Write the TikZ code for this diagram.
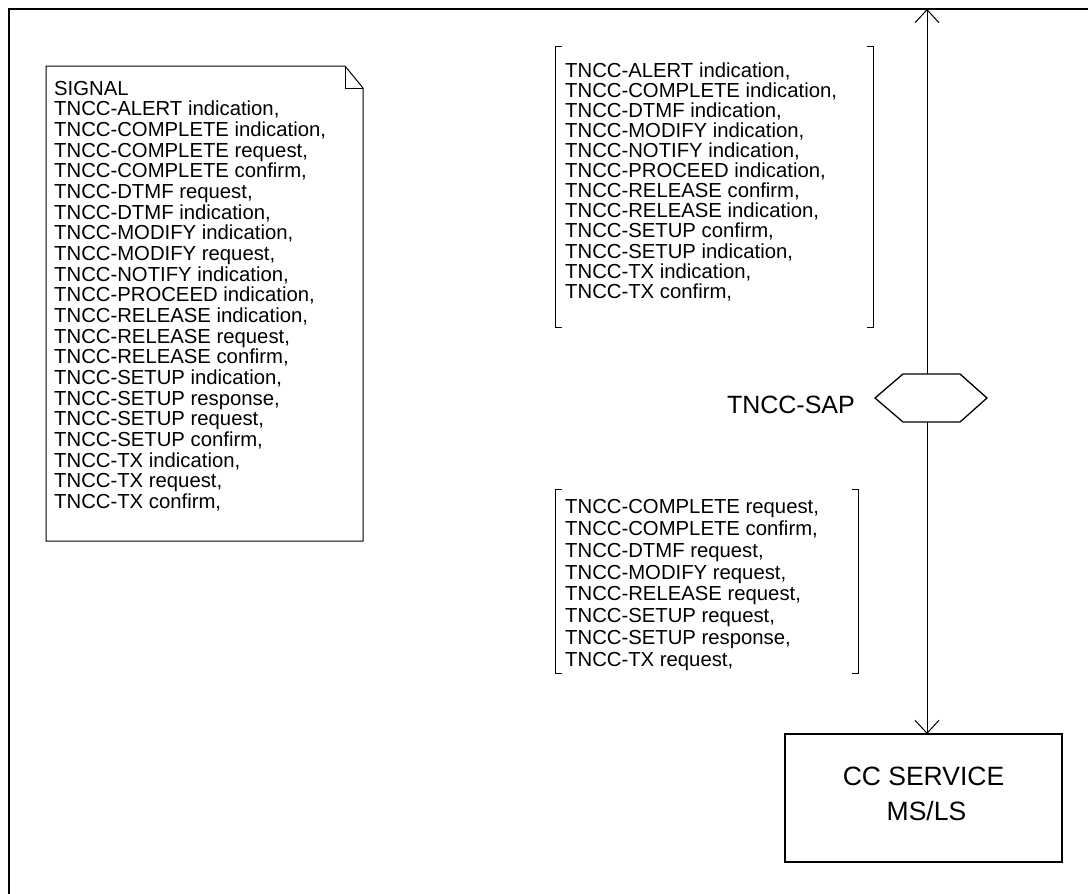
\documentclass[tikz,border=0pt]{standalone}
\usepackage{fontspec}
\setmainfont{Liberation Sans}
\usetikzlibrary{arrows.meta}
\tikzset{
  frameline/.style={line width=2.5pt},
  thin/.style={line width=1pt},
  listtext/.style={anchor=base west, inner sep=0pt, font=\fontsize{20.3}{21}\selectfont},
  sigarrow/.style={line width=1pt, -{Straight Barb[length=13pt,width=24pt,line width=1pt]}},
  ccbox/.style={draw, line width=1.2pt, minimum width=277pt, minimum height=128pt, inner sep=0pt},
  bigtext/.style={anchor=base, inner sep=0pt, font=\fontsize{26.5}{30}\selectfont},
}
\begin{document}
\begin{tikzpicture}[x=1pt,y=-1pt]
\useasboundingbox (0,0) rectangle (1088,894);
% frame
\draw[frameline] (9,894) -- (9,9) -- (1088,9);
\coordinate (ftop) at (927,9);
% signal box
\draw[thin] (46,66) -- (345,66) -- (363,88) -- (363,541) -- (46,541) -- cycle;
\draw[thin] (345,66) -- (345,88) -- (363,88);
\foreach \t [count=\i] in {SIGNAL,{TNCC-ALERT indication,},{TNCC-COMPLETE indication,},{TNCC-COMPLETE request,},{TNCC-COMPLETE confirm,},{TNCC-DTMF request,},{TNCC-DTMF indication,},{TNCC-MODIFY indication,},{TNCC-MODIFY request,},{TNCC-NOTIFY indication,},{TNCC-PROCEED indication,},{TNCC-RELEASE indication,},{TNCC-RELEASE request,},{TNCC-RELEASE confirm,},{TNCC-SETUP indication,},{TNCC-SETUP response,},{TNCC-SETUP request,},{TNCC-SETUP confirm,},{TNCC-TX indication,},{TNCC-TX request,},{TNCC-TX confirm,}}
  \node[listtext] (s\i) at (54,{95+(\i-1)*20.67}) {\t};
% list 1
\draw[thin] (562,46) -- (555,46) -- (555,327) -- (562,327);
\draw[thin] (867,46) -- (873,46) -- (873,327) -- (867,327);
\foreach \t [count=\i] in {{TNCC-ALERT indication,},{TNCC-COMPLETE indication,},{TNCC-DTMF indication,},{TNCC-MODIFY indication,},{TNCC-NOTIFY indication,},{TNCC-PROCEED indication,},{TNCC-RELEASE confirm,},{TNCC-RELEASE indication,},{TNCC-SETUP confirm,},{TNCC-SETUP indication,},{TNCC-TX indication,},{TNCC-TX confirm,}}
  \node[listtext] (a\i) at (565,{77.3+(\i-1)*20.08}) {\t};
% list 2
\draw[thin] (562,489) -- (555,489) -- (555,673) -- (562,673);
\draw[thin] (852,489) -- (858,489) -- (858,673) -- (852,673);
\foreach \t [count=\i] in {{TNCC-COMPLETE request,},{TNCC-COMPLETE confirm,},{TNCC-DTMF request,},{TNCC-MODIFY request,},{TNCC-RELEASE request,},{TNCC-SETUP request,},{TNCC-SETUP response,},{TNCC-TX request,}}
  \node[listtext] (b\i) at (565,{513.3+(\i-1)*21.9}) {\t};
% SAP hexagon
\draw[line width=1.3pt] (875,398) -- (903,374) -- (960,374) -- (987,398) -- (960,422) -- (903,422) -- cycle;
\coordinate (hexT) at (927,374);
\coordinate (hexB) at (927,422);
\node[anchor=base east, inner sep=0pt, font=\fontsize{25}{30}\selectfont] (sap) at (855,413) {TNCC-SAP};
% CC service box
\node[ccbox] (cc) at (923.5,798) {};
\node[bigtext] (cc1) at (923.5,785) {CC SERVICE};
\node[bigtext] (cc2) at (926.5,820) {MS/LS};
% connectors
\draw[sigarrow] (hexT) -- (ftop);
\draw[sigarrow] (hexB) -- (927,734);
\end{tikzpicture}
\end{document}
